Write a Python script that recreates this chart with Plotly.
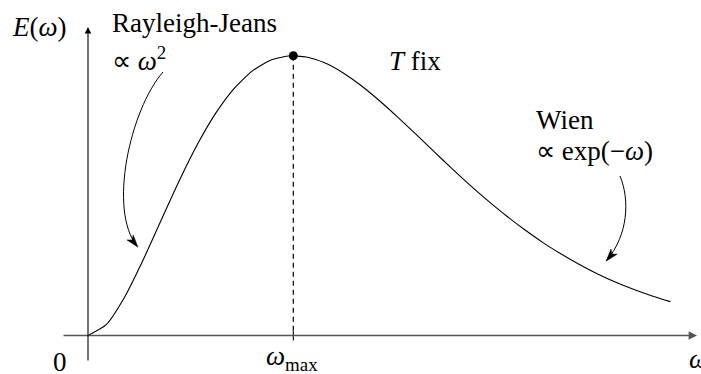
import plotly.graph_objects as go

# Spectral energy density E(omega) at fixed temperature (arbitrary units)
omega = [0.0, 0.25, 0.5, 0.75, 1.0, 1.25, 1.5, 1.75, 2.0, 2.25, 2.5, 2.75,
         3.0, 3.25, 3.5, 3.75, 4.0, 4.25, 4.5, 4.75, 5.0, 5.25, 5.5, 5.75,
         6.0, 6.25, 6.5, 6.75, 7.0, 7.25, 7.5, 7.75, 8.0]
energy = [0.0, 0.055, 0.193, 0.378, 0.582, 0.784, 0.969, 1.127, 1.252, 1.342,
          1.397, 1.420, 1.415, 1.385, 1.335, 1.270, 1.194, 1.111, 1.024, 0.935,
          0.848, 0.763, 0.683, 0.607, 0.537, 0.472, 0.414, 0.361, 0.313, 0.271,
          0.234, 0.201, 0.172]
omega_max = 2.82
energy_max = 1.421

W, H = 701, 374
X0_PX, Y0_PX = 88.0, 335.5      # pixel position of the origin
SX, SY = 72.8, 196.85           # pixels per data unit

x_range = [-X0_PX / SX, (W - X0_PX) / SX]
y_range = [-(H - Y0_PX) / SY, Y0_PX / SY]

FONT = "Liberation Serif"
FS = 27


def paper(px, py):
    return px / W, 1 - py / H


def dx(px):
    return (px - X0_PX) / SX


def dy(py):
    return (Y0_PX - py) / SY


fig = go.Figure()

fig.add_trace(go.Scatter(
    x=omega, y=energy, mode="lines",
    line=dict(color="black", width=1.1, shape="spline", smoothing=0.6),
    hoverinfo="skip", showlegend=False))

fig.add_trace(go.Scatter(
    x=[omega_max], y=[energy_max], mode="markers",
    marker=dict(color="black", size=9),
    hoverinfo="skip", showlegend=False))

shapes = []
# dashed drop line from the maximum to the axis
shapes.append(dict(type="line", xref="x", yref="y",
                   x0=omega_max, x1=omega_max, y0=energy_max, y1=0,
                   line=dict(color="black", width=1.2, dash="5px,4px")))
# tick mark at omega_max
shapes.append(dict(type="line", xref="x", yref="y",
                   x0=omega_max, x1=omega_max, y0=dy(340.5), y1=dy(331),
                   line=dict(color="black", width=1.1)))


def curved_arrow(p0, p1, p2, p3):
    a = paper(*p0); b = paper(*p1); c = paper(*p2); d = paper(*p3)
    path = f"M {a[0]},{a[1]} C {b[0]},{b[1]} {c[0]},{c[1]} {d[0]},{d[1]}"
    shapes.append(dict(type="path", xref="paper", yref="paper", path=path,
                       line=dict(color="black", width=1)))
    # arrowhead along the end tangent
    tx, ty = p3[0] - p2[0], p3[1] - p2[1]
    n = (tx * tx + ty * ty) ** 0.5
    ux, uy = tx / n, ty / n
    L, Wd = 11.0, 4.0
    bx, by = p3[0] - ux * L, p3[1] - uy * L
    tip = paper(p3[0] + ux * 1.5, p3[1] + uy * 1.5)
    l = paper(bx - uy * Wd, by + ux * Wd)
    r = paper(bx + uy * Wd, by - ux * Wd)
    m = paper(p3[0] - ux * L * 0.7, p3[1] - uy * L * 0.7)
    head = (f"M {tip[0]},{tip[1]} L {l[0]},{l[1]} L {m[0]},{m[1]} "
            f"L {r[0]},{r[1]} Z")
    shapes.append(dict(type="path", xref="paper", yref="paper", path=head,
                       fillcolor="black", line=dict(color="black", width=0.5)))


curved_arrow((163, 72), (130, 110), (108, 210), (137, 246))
curved_arrow((620, 176), (630, 200), (628, 235), (607, 260))

annotations = []
# axes with arrowheads
annotations.append(dict(x=dx(697), y=0, ax=dx(62), ay=0,
                        xref="x", yref="y", axref="x", ayref="y",
                        text="", showarrow=True, arrowhead=2, arrowsize=1.2,
                        arrowwidth=1.4, arrowcolor="#555555"))
annotations.append(dict(x=0, y=dy(27), ax=0, ay=dy(362),
                        xref="x", yref="y", axref="x", ayref="y",
                        text="", showarrow=True, arrowhead=2, arrowsize=1.2,
                        arrowwidth=1.1, arrowcolor="black"))


def label(text, px, py, xanchor="left", size=FS):
    x, y = paper(px, py)
    annotations.append(dict(x=x, y=y, xref="paper", yref="paper", text=text,
                            showarrow=False, xanchor=xanchor, yanchor="middle",
                            font=dict(family=FONT, size=size, color="black")))


label("<i>E</i>(<i>ω</i>)", 10, 27)
label("Rayleigh-Jeans", 110, 23)
label("∝ <i>ω</i><sup>2</sup>", 110, 59)
label("<i>T</i> fix", 387, 61)
label("Wien", 534, 120)
label("∝ exp(−<i>ω</i>)", 534, 151)
label("0", 60, 362, xanchor="center")
label("<i>ω</i><sub>max</sub>", 292, 358, xanchor="center")
label("<i>ω</i>", 687, 359)

fig.update_layout(
    width=W, height=H,
    margin=dict(l=0, r=0, t=0, b=0),
    paper_bgcolor="white", plot_bgcolor="white",
    xaxis=dict(range=x_range, visible=False, fixedrange=True),
    yaxis=dict(range=y_range, visible=False, fixedrange=True),
    shapes=shapes, annotations=annotations,
)

fig.write_html("out.html")
